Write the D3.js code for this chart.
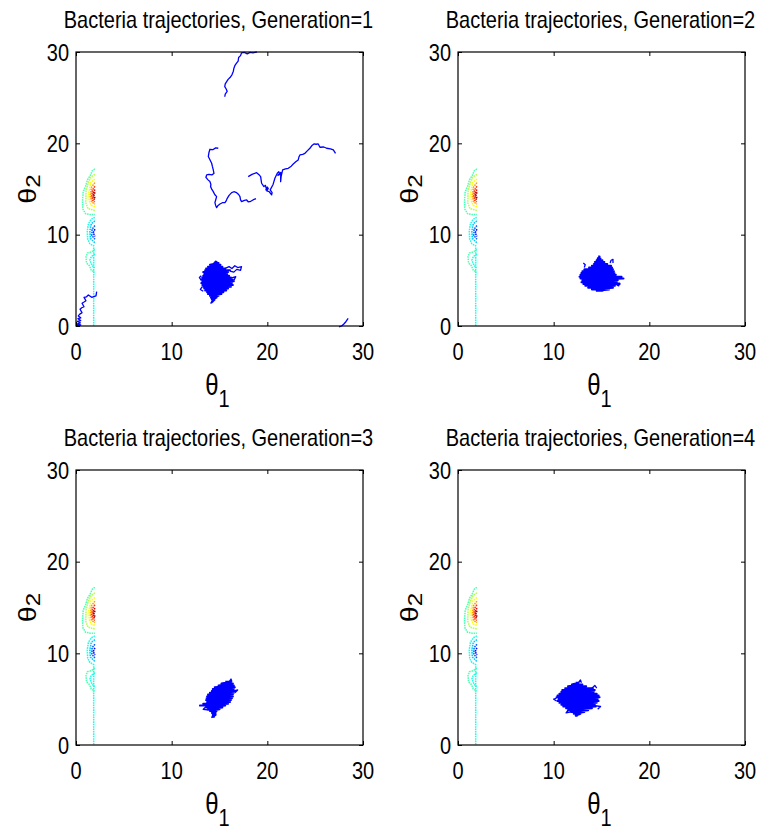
<!DOCTYPE html>
<html><head><meta charset="utf-8">
<script src="https://cdn.jsdelivr.net/npm/d3@7"></script>
<style>
body{margin:0;background:#fff;}
svg{display:block;font-family:"Liberation Sans",Arial,Helvetica,sans-serif;}
</style></head><body>
<svg id="chart" width="762" height="832"></svg>
<script>
// ---------------- data ----------------
const generations = [1, 2, 3, 4];
const xTicks = [0, 10, 20, 30];
const yTicks = [0, 10, 20, 30];
const xDomain = [0, 30];
const yDomain = [0, 30];

// contour lines of the cost surface (theta1, theta2), with jet level 0..1
const contourLevels = [0.45, 0.55, 0.62, 0.72, 0.82, 0.9, 0.97, 0.40, 0.32, 0.22, 0.13, 0.45, 0.40, 0.40];
const contourLines = [
  [[1.98,17.2],[1.7,17.0],[1.5,16.5],[1.2,16.0],[1.0,15.3],[0.75,14.7],[0.68,13.6],[0.72,12.8],[1.0,12.3],[1.5,12.2],[1.98,12.2]],
  [[1.98,16.6],[1.55,16.3],[1.25,15.6],[1.05,14.7],[1.02,13.5],[1.25,12.85],[1.98,12.65]],
  [[1.98,16.1],[1.55,15.7],[1.35,14.7],[1.38,13.7],[1.6,13.2],[1.98,13.05]],
  [[1.98,15.7],[1.62,15.2],[1.5,14.3],[1.62,13.6],[1.98,13.35]],
  [[1.98,15.3],[1.72,14.9],[1.65,14.2],[1.76,13.75],[1.98,13.6]],
  [[1.98,14.95],[1.8,14.55],[1.8,14.0],[1.98,13.8]],
  [[1.98,14.65],[1.88,14.3],[1.98,14.0]],
  [[1.98,11.9],[1.6,11.7],[1.3,11.2],[1.18,10.4],[1.22,9.5],[1.45,9.0],[1.98,8.7]],
  [[1.98,11.5],[1.6,11.2],[1.45,10.4],[1.5,9.6],[1.98,9.1]],
  [[1.98,11.0],[1.68,10.6],[1.66,9.9],[1.98,9.5]],
  [[1.98,10.6],[1.8,10.2],[1.98,9.8]],
  [[1.98,8.4],[1.6,8.1],[1.2,8.0],[1.05,7.6],[1.1,6.9],[1.4,6.6],[1.6,6.1],[1.98,5.9]],
  [[1.98,7.9],[1.6,7.6],[1.45,7.2],[1.7,6.6],[1.98,6.4]],
  [[1.85,8.6],[1.85,0.0]]
];

// generation 1: individual bacteria paths (theta1, theta2)
const gen1PathA = [[18.9,30.0],[18.5,29.9],[18.2,29.95],[17.9,29.8],[17.6,29.95],[17.3,29.9],[17.2,29.6],[17.0,29.4],[16.95,29.0],[16.8,28.8],[16.6,28.5],[16.5,28.2],[16.45,27.9],[16.3,27.5],[16.1,27.2],[15.9,27.0],[15.75,26.75],[15.6,26.5],[15.55,26.2],[15.7,25.95],[15.8,25.7],[15.6,25.4],[15.55,25.1]];
const gen1PathB = [[14.87,19.46],[14.6,19.5],[14.3,19.3],[14.0,19.35],[13.9,19.0],[13.83,18.55],[14.0,18.2],[14.18,17.82],[14.25,17.5],[14.35,17.09],[14.42,16.7],[14.2,16.55],[13.9,16.6],[13.66,16.54],[13.58,16.28],[13.8,16.0],[14.0,15.81],[14.1,15.5],[14.07,15.26],[14.2,14.95],[14.35,14.71],[14.5,14.4],[14.7,14.16],[14.6,13.8],[14.52,13.5],[14.6,13.2],[14.70,12.96],[14.85,13.2],[15.05,13.36],[15.3,13.5],[15.57,13.5],[15.7,13.7],[15.81,13.98],[16.0,14.3],[16.27,14.6],[16.5,14.7],[16.79,14.6],[17.0,14.4],[17.14,14.16],[17.2,13.8],[17.31,13.61],[17.6,13.75],[17.84,13.8],[18.0,13.6],[18.18,13.61],[18.5,13.8],[18.81,13.95]];
const gen1PathC = [[18.0,16.35],[18.4,16.6],[18.88,16.79],[19.1,16.6],[19.3,16.35],[19.35,16.0],[19.4,15.63],[19.64,15.26],[19.8,15.4],[19.9,15.0],[20.0,15.2],[19.85,14.9],[20.1,15.1],[19.95,14.8],[20.2,14.7],[20.45,14.35],[20.5,14.6],[20.3,14.9],[20.6,15.5],[20.8,16.2],[21.04,16.72],[21.2,16.9],[21.3,16.6],[21.1,16.5],[21.4,16.8],[21.39,15.8],[21.45,16.4],[21.6,17.09],[21.9,17.2],[22.19,17.27],[22.5,17.5],[22.71,17.74],[23.0,18.0],[23.23,18.18],[23.3,18.5],[23.41,18.73],[23.7,18.8],[23.93,18.91],[24.2,19.2],[24.45,19.46],[24.7,19.8],[24.87,19.93],[25.1,19.9],[25.32,19.93],[25.5,19.57],[25.9,19.6],[26.2,19.46],[26.6,19.4],[26.9,19.28],[27.13,18.91]];
const gen1PathD = [[2.16,3.76],[2.09,3.29],[1.64,3.14],[1.29,3.40],[1.1,3.2],[0.84,3.14],[1.04,2.77],[0.8,2.6],[0.63,2.49],[0.84,2.11],[0.6,2.0],[0.42,1.83],[0.63,1.46],[0.4,1.3],[0.24,1.10],[0.5,0.9],[0.2,0.8],[0.49,0.6],[0.14,0.5],[0.45,0.35],[0.1,0.2],[0.49,0.11],[0.2,0.05],[0.3,0.3],[0.15,0.0]];
const gen1PathE = [[27.5,-0.1],[27.76,0.0],[28.0,0.22],[28.21,0.47],[28.45,0.84]];
const gen1Tail = [[15.6,6.3],[16.0,6.5],[16.3,6.3],[16.6,6.6],[16.9,6.4],[17.3,6.5],[17.2,6.1],[16.8,6.2],[16.5,5.9],[16.1,6.0]];
const gen1Stubs = [[[13.1,5.5],[12.9,5.3],[13.1,5.0]],[[13.2,4.3],[13.0,4.0],[13.3,3.8]],[[14.3,2.9],[14.1,2.5],[14.3,2.6]],[[16.0,5.2],[16.7,5.4],[16.5,5.0]],[[14.4,6.9],[14.6,7.1],[14.9,6.9]]];

// dense clusters of the swarm: rows [theta2, theta1 left, theta1 right]
const gen1Cluster = [[6.9,14.5,14.9],[6.7,14.0,15.1],[6.5,13.8,15.3],[6.3,13.6,15.6],[6.1,13.5,16.1],[5.9,13.3,15.9],[5.7,13.4,15.8],[5.5,13.3,16.0],[5.3,13.2,16.2],[5.1,13.1,16.4],[4.9,13.2,16.5],[4.7,13.1,16.3],[4.5,13.2,16.4],[4.3,13.3,16.2],[4.1,13.4,15.9],[3.9,13.5,15.7],[3.7,13.7,15.4],[3.5,13.8,15.2],[3.3,14.0,14.9],[3.1,14.1,14.7],[2.9,14.2,14.5],[2.7,14.3,14.4]];
const gen2Cluster = [[7.6,14.65,14.8],[7.4,14.6,14.9],[7.2,14.5,15.1],[7.0,14.3,15.3],[6.8,14.2,15.6],[6.6,14.0,16.0],[6.4,13.7,16.1],[6.2,13.2,16.2],[6.0,13.0,16.3],[5.8,12.9,16.35],[5.6,12.8,16.5],[5.4,12.7,17.1],[5.2,12.8,17.3],[5.0,13.0,16.7],[4.8,12.9,16.6],[4.6,13.1,16.9],[4.4,13.3,16.4],[4.2,13.6,16.2],[4.0,14.0,15.8],[3.85,14.5,15.2]];
const gen2Stubs = [[[15.9,6.9],[16.0,7.2],[16.2,7.3],[16.2,6.9]],[[13.1,6.9],[13.3,6.7],[13.2,6.4]],[[16.5,4.7],[16.9,4.7],[16.8,4.4],[16.6,4.5]]];
const gen3Cluster = [[6.9,15.6,16.2],[6.7,15.2,16.4],[6.5,14.9,16.5],[6.3,14.5,16.6],[6.1,14.3,16.5],[5.9,14.2,16.6],[5.7,14.0,16.5],[5.5,13.8,16.4],[5.3,13.7,16.4],[5.1,13.65,16.3],[4.9,13.6,16.2],[4.7,13.7,16.1],[4.5,13.3,15.9],[4.3,12.96,15.6],[4.1,13.6,15.3],[3.9,13.8,15.0],[3.7,14.0,14.7],[3.5,14.2,14.6],[3.3,14.3,14.6],[3.1,14.35,14.5]];
const gen3Stubs = [[[16.0,6.9],[16.2,7.2],[16.3,6.9]],[[16.5,5.9],[16.9,6.0],[16.6,5.7]],[[13.6,4.2],[13.3,3.9],[13.9,3.8]],[[14.3,3.3],[14.2,3.0],[14.5,3.1]]];
const gen4Cluster = [[6.8,12.3,12.6],[6.6,11.9,13.0],[6.4,11.5,13.4],[6.2,11.2,14.1],[6.0,10.9,14.3],[5.8,10.8,14.2],[5.6,10.6,14.5],[5.4,10.4,14.7],[5.2,10.3,14.8],[5.0,10.5,14.6],[4.8,10.4,14.7],[4.6,10.6,14.5],[4.4,10.8,14.3],[4.2,11.0,14.4],[4.0,11.3,14.0],[3.8,11.5,13.6],[3.6,11.8,13.2],[3.4,12.1,12.8],[3.2,12.3,12.5]];
const gen4Stubs = [[[12.6,6.8],[12.8,7.1],[12.9,6.8]],[[14.0,6.2],[14.3,6.5],[14.5,6.2]],[[10.3,5.1],[10.0,5.0],[10.3,4.8]],[[14.3,4.3],[14.9,4.2],[14.6,3.9]],[[11.5,3.8],[11.3,3.5],[11.7,3.6]]];

// ---------------- drawing ----------------
const clusterToPath = rows => rows.flatMap(r => [[r[1], r[0]], [r[2], r[0]]]);
const pathsByGen = [
  [gen1PathA, gen1PathB, gen1PathC, gen1PathD, gen1PathE, gen1Tail, ...gen1Stubs],
  gen2Stubs,
  gen3Stubs,
  gen4Stubs
];
const clustersByGen = [[gen1Cluster], [gen2Cluster], [gen3Cluster], [gen4Cluster]];

const layout = [
  {left: 76, top: 52, w: 287, h: 274},
  {left: 458, top: 52, w: 287, h: 274},
  {left: 76, top: 470, w: 287, h: 275},
  {left: 458, top: 470, w: 287, h: 275}
];

const jet = d3.scaleLinear()
  .domain([0, 0.125, 0.375, 0.625, 0.875, 1])
  .range(["#000080", "#0000ff", "#00ffff", "#ffff00", "#ff0000", "#800000"]);

const svg = d3.select("#chart");
const FS = 20, SY = 1.2;

function label(g, x, y, str, anchor, size) {
  g.append("text")
    .attr("transform", `translate(${x},${y}) scale(1,${SY})`)
    .attr("text-anchor", anchor)
    .attr("font-size", size || FS)
    .attr("fill", "#000")
    .text(str);
}

generations.forEach((gen, i) => {
  const p = layout[i];
  const g = svg.append("g").attr("transform", `translate(${p.left},${p.top})`);
  const x = d3.scaleLinear().domain(xDomain).range([0, p.w]);
  const y = d3.scaleLinear().domain(yDomain).range([p.h, 0]);
  const line = d3.line().x(d => x(d[0])).y(d => y(d[1]));

  contourLines.forEach((pts, k) => {
    g.append("path").attr("d", line(pts))
      .attr("fill", "none")
      .attr("stroke", jet(contourLevels[k]))
      .attr("stroke-width", 1.5)
      .attr("stroke-dasharray", "1.6,0.8");
  });

  pathsByGen[i].forEach(pts => {
    g.append("path").attr("d", line(pts))
      .attr("fill", "none")
      .attr("stroke", "#0000ff")
      .attr("stroke-width", 1.3)
      .attr("stroke-linejoin", "round");
  });
  clustersByGen[i].forEach(rows => {
    g.append("path").attr("d", line(clusterToPath(rows)))
      .attr("fill", "none")
      .attr("stroke", "#0000ff")
      .attr("stroke-width", 2)
      .attr("stroke-linejoin", "round");
  });

  g.append("rect").attr("width", p.w).attr("height", p.h)
    .attr("fill", "none").attr("stroke", "#000").attr("stroke-width", 1.2);

  const clean = s => s.call(a => a.select(".domain").remove());
  g.append("g").attr("transform", `translate(0,${p.h})`)
    .call(d3.axisBottom(x).tickValues(xTicks).tickSize(-4).tickFormat("")).call(clean);
  g.append("g")
    .call(d3.axisTop(x).tickValues(xTicks).tickSize(-4).tickFormat("")).call(clean);
  g.append("g")
    .call(d3.axisLeft(y).tickValues(yTicks).tickSize(-4).tickFormat("")).call(clean);
  g.append("g").attr("transform", `translate(${p.w},0)`)
    .call(d3.axisRight(y).tickValues(yTicks).tickSize(-4).tickFormat("")).call(clean);

  xTicks.forEach(v => label(g, x(v), p.h + 34, String(v), "middle"));
  yTicks.forEach(v => label(g, -7, y(v) + 8.5, String(v), "end"));

  label(g, p.w / 2 - 1, -24, "Bacteria trajectories, Generation=" + gen, "middle");

  // x label theta_1
  const xl = g.append("text")
    .attr("transform", `translate(${p.w / 2 - 2},${p.h + 69}) scale(1,${SY})`)
    .attr("text-anchor", "middle").attr("fill", "#000");
  xl.append("tspan").attr("font-size", 24).text("θ");
  xl.append("tspan").attr("font-size", 20).attr("dy", 10).text("1");

  // y label theta_2
  const yl = g.append("text")
    .attr("transform", `translate(-40,${p.h / 2}) rotate(-90) scale(${SY},1)`)
    .attr("text-anchor", "middle").attr("fill", "#000");
  yl.append("tspan").attr("font-size", 24).text("θ");
  yl.append("tspan").attr("font-size", 20).attr("dy", 4).text("2");
});
</script>
</body></html>
